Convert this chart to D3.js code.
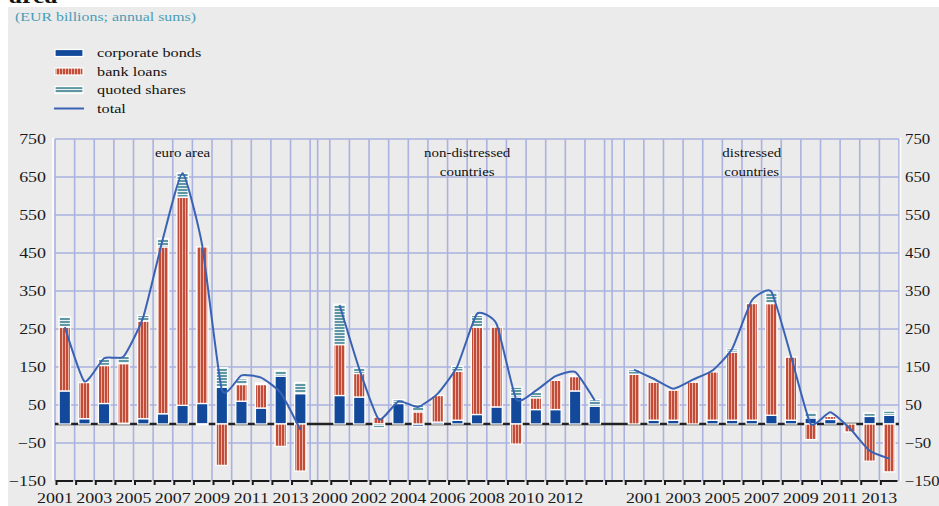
<!DOCTYPE html>
<html><head><meta charset="utf-8">
<script src="https://cdn.jsdelivr.net/npm/d3@7"></script>
<style>
html,body{margin:0;padding:0;background:#fff;}
svg{display:block;}
text{font-family:"Liberation Serif","DejaVu Serif",serif;}
</style></head>
<body><svg id="chart" width="939" height="506"></svg>
<script>
// ---------- data ----------
const seriesNames = ["corporate bonds", "bank loans", "quoted shares", "total"];
const panelTitles = [["euro area"], ["non-distressed", "countries"], ["distressed", "countries"]];

const euroYears = [2001,2002,2003,2004,2005,2006,2007,2008,2009,2010,2011,2012,2013];
const euroBonds = [87, 14, 54, 2, 14, 27, 49, 54, 97, 60, 42, 126, 80];
const euroLoans = [168, 95, 100, 157, 257, 439, 548, 412, -109, 44, 62, -59, -124];
const euroShares = [27, 0, 18, 19, 15, 22, 63, -3, 51, 15, 4, 15, 29];
const euroTotal = [255, 112, 173, 178, 282, 488, 660, 470, 90, 128, 122, 82, -15];

const nonDistYears = [2000,2001,2002,2003,2004,2005,2006,2007,2008,2009,2010,2011,2012,2013];
const nonDistBonds = [75, 71, 0, 54, -6, 5, 10, 25, 45, 71, 38, 38, 87, 47];
const nonDistLoans = [134, 62, 18, 0, 32, 70, 129, 230, 210, -53, 31, 77, 38, 0];
const nonDistShares = [106, 14, -10, 10, 19, 0, 13, 31, 0, 26, 15, 0, 3, 17];
const nonDistTotal = [313, 145, 12, 60, 45, 80, 152, 290, 263, 65, 88, 126, 137, 62];

const distYears = [2000,2001,2002,2003,2004,2005,2006,2007,2008,2009,2010,2011,2012,2013];
const distBonds = [0, 10, 10, 0, 10, 10, 10, 23, 10, 16, 12, 0, 20, 23];
const distLoans = [131, 100, 79, 110, 127, 179, 307, 294, 166, -41, 8, -21, -98, -126];
const distShares = [12, 0, 0, 0, 0, 9, 0, 30, 0, 15, 0, 0, 9, 11];
const distTotal = [143, 119, 93, 117, 141, 198, 325, 348, 178, 0, 31, -12, -70, -91];

const yTicks = [750, 650, 550, 450, 350, 250, 150, 50, -50, -150];
const euroLabels = [2001,2003,2005,2007,2009,2011,2013];
const nonDistLabels = [2000,2002,2004,2006,2008,2010,2012];
const distLabels = [2001,2003,2005,2007,2009,2011,2013];

// ---------- build ----------
const panels = [
  {key:"L", years:euroYears, bonds:euroBonds, loans:euroLoans, shares:euroShares, total:euroTotal, labels:euroLabels, title:panelTitles[0], titleYear:2007, titlePos:"center"},
  {key:"M", years:nonDistYears, bonds:nonDistBonds, loans:nonDistLoans, shares:nonDistShares, total:nonDistTotal, labels:nonDistLabels, title:panelTitles[1], titleYear:2007, titlePos:"left"},
  {key:"R", years:distYears, bonds:distBonds, loans:distLoans, shares:distShares, total:distTotal, labels:distLabels, title:panelTitles[2], titleYear:2006, titlePos:"center"}
];
const slots = [];
panels.forEach((p,i)=>{ if(i>0) slots.push("gap"+i); p.years.forEach(y=>slots.push(p.key+y)); });

const svg = d3.select("#chart");
const W = 939, H = 506;
const x = d3.scaleBand().domain(slots).range([55, 899]).padding(0);
const y = d3.scaleLinear().domain([-150, 750]).range([481, 139]);
const bw = x.bandwidth()*0.58;

const C = {bonds:"#13499b", loans:"#c24c38", loansStripe:"#eab0a2", shares:"#5f98a4", grid:"#aab2df", line:"#3a62b4", bg:"#ebebeb"};

function stretch(sel, k){
  sel.each(function(){
    const w = this.getComputedTextLength();
    this.setAttribute("textLength", w*k);
    this.setAttribute("lengthAdjust", "spacingAndGlyphs");
  });
}

// patterns
const defs = svg.append("defs");
const pl = defs.append("pattern").attr("id","loansPat").attr("patternUnits","userSpaceOnUse").attr("width",3).attr("height",4);
pl.append("rect").attr("width",3).attr("height",4).attr("fill",C.loans);
pl.append("rect").attr("x",2).attr("width",1).attr("height",4).attr("fill",C.loansStripe);
const ps = defs.append("pattern").attr("id","sharesPat").attr("patternUnits","userSpaceOnUse").attr("width",4).attr("height",3);
ps.append("rect").attr("width",4).attr("height",3).attr("fill",C.shares);
ps.append("rect").attr("y",2).attr("width",4).attr("height",1).attr("fill","#e8f0f0");
const fills = {bonds:C.bonds, loans:"url(#loansPat)", shares:"url(#sharesPat)"};

// background
svg.append("rect").attr("width",W).attr("height",H).attr("fill","#fff");
svg.append("rect").attr("x",8).attr("y",7).attr("width",W-8).attr("height",H-7).attr("fill",C.bg);
svg.append("text").attr("x",9).attr("y",3).attr("font-size",20).attr("font-weight","bold").attr("fill","#111").text("area").call(stretch,1.3);
svg.append("text").attr("x",15).attr("y",21).attr("font-size",13).attr("fill","#4a9db6").text("(EUR billions; annual sums)").call(stretch,1.22);

// legend
const lg = svg.append("g");
const legendKeys = ["bonds","loans","shares","total"];
legendKeys.forEach((k,i)=>{
  const cy = 53 + i*18.5;
  if(k==="total"){
    lg.append("line").attr("x1",54).attr("x2",84).attr("y1",cy).attr("y2",cy).attr("stroke",C.line).attr("stroke-width",2);
  } else {
    lg.append("rect").attr("x",55).attr("y",cy-3.5).attr("width",28).attr("height",7).attr("fill",fills[k]).attr("stroke","#fff").attr("stroke-width",1.2);
  }
  lg.append("text").attr("x",97).attr("y",cy+4).attr("font-size",13).attr("fill","#111").text(seriesNames[i]).call(stretch,1.25);
});

// grid
const grid = svg.append("g");
grid.selectAll("line.h").data(yTicks.filter(v=>v>-150)).join("line")
  .attr("x1",55).attr("x2",899).attr("y1",d=>y(d)).attr("y2",d=>y(d))
  .attr("stroke",C.grid).attr("stroke-width",1.6);
const bounds = slots.map(s=>x(s)).concat([x.range()[1]]);
grid.selectAll("line.v").data(bounds).join("line")
  .attr("x1",d=>d).attr("x2",d=>d).attr("y1",y(750)).attr("y2",y(-150))
  .attr("stroke",C.grid).attr("stroke-width",1.6);
grid.selectAll("line.sep").data(slots.filter(s=>s.startsWith("gap"))).join("line")
  .attr("x1",d=>x(d)+7.5).attr("x2",d=>x(d)+7.5).attr("y1",y(750)).attr("y2",y(-150))
  .attr("stroke",C.grid).attr("stroke-width",1.6);
// white side axes
[53, 900.5].forEach(px=>{
  svg.append("line").attr("x1",px).attr("x2",px).attr("y1",y(750)-1).attr("y2",y(-150)).attr("stroke","#fff").attr("stroke-width",1.6);
});

// zero line
svg.append("line").attr("x1",55).attr("x2",899).attr("y1",y(0)).attr("y2",y(0)).attr("stroke","#222").attr("stroke-width",2.4);

// bottom axis segments
const ba = svg.append("g");
ba.selectAll("path").data(slots).join("path")
  .attr("d",d=>`M${x(d)+1.5},${y(-150)+4}V${y(-150)}H${x(d)+x.bandwidth()-1.5}`)
  .attr("fill","none").attr("stroke","#1a1a1a").attr("stroke-width",2);

// bars
const keys = ["bonds","loans","shares"];
panels.forEach(p=>{
  const rows = p.years.map((yr,i)=>({slot:p.key+yr, bonds:p.bonds[i], loans:p.loans[i], shares:p.shares[i]}));
  const stacked = d3.stack().keys(keys).offset(d3.stackOffsetDiverging)(rows);
  const g = svg.append("g");
  stacked.forEach(layer=>{
    g.selectAll(null).data(layer.filter(d=>d[1]!==d[0])).join("rect")
      .attr("x",d=>x(d.data.slot)+(x.bandwidth()-bw)/2)
      .attr("width",bw)
      .attr("y",d=>y(Math.max(d[0],d[1])))
      .attr("height",d=>Math.abs(y(d[0])-y(d[1])))
      .attr("fill",fills[layer.key])
      .attr("stroke","#fff").attr("stroke-width",1.3);
  });
  // total line
  const line = d3.line().x((d,i)=>x(p.key+p.years[i])+x.bandwidth()/2).y(d=>y(d)).curve(d3.curveCardinal.tension(0.5));
  svg.append("path").attr("d",line(p.total)).attr("fill","none").attr("stroke",C.line).attr("stroke-width",2);
  // x labels
  svg.append("g").selectAll("text").data(p.labels).join("text")
    .attr("x",d=>x(p.key+d)).attr("y",503).attr("text-anchor","middle").attr("font-size",14).attr("fill","#1a1a1a").text(d=>d)
    .call(stretch,1.28);
  // title
  const tx = p.titlePos==="center" ? x(p.key+p.titleYear)+x.bandwidth()/2 : x(p.key+p.titleYear);
  svg.append("g").selectAll("text").data(p.title).join("text")
    .attr("x",tx).attr("y",(d,i)=>157+i*19).attr("text-anchor","middle").attr("font-size",13).attr("fill","#111").text(d=>d)
    .call(stretch,1.15);
});

// y axes
const axL = svg.append("g").attr("transform","translate(46,0)").call(d3.axisLeft(y).tickValues(yTicks).tickSize(0).tickPadding(0));
const axR = svg.append("g").attr("transform","translate(905,0)").call(d3.axisRight(y).tickValues(yTicks).tickSize(0).tickPadding(0));
[axL, axR].forEach((ax,i)=>{
  ax.select(".domain").remove();
  ax.selectAll("text").attr("font-family","Liberation Serif").attr("font-size",14).attr("fill","#1a1a1a").call(stretch,i===0?1.28:1.2);
});
</script></body></html>
